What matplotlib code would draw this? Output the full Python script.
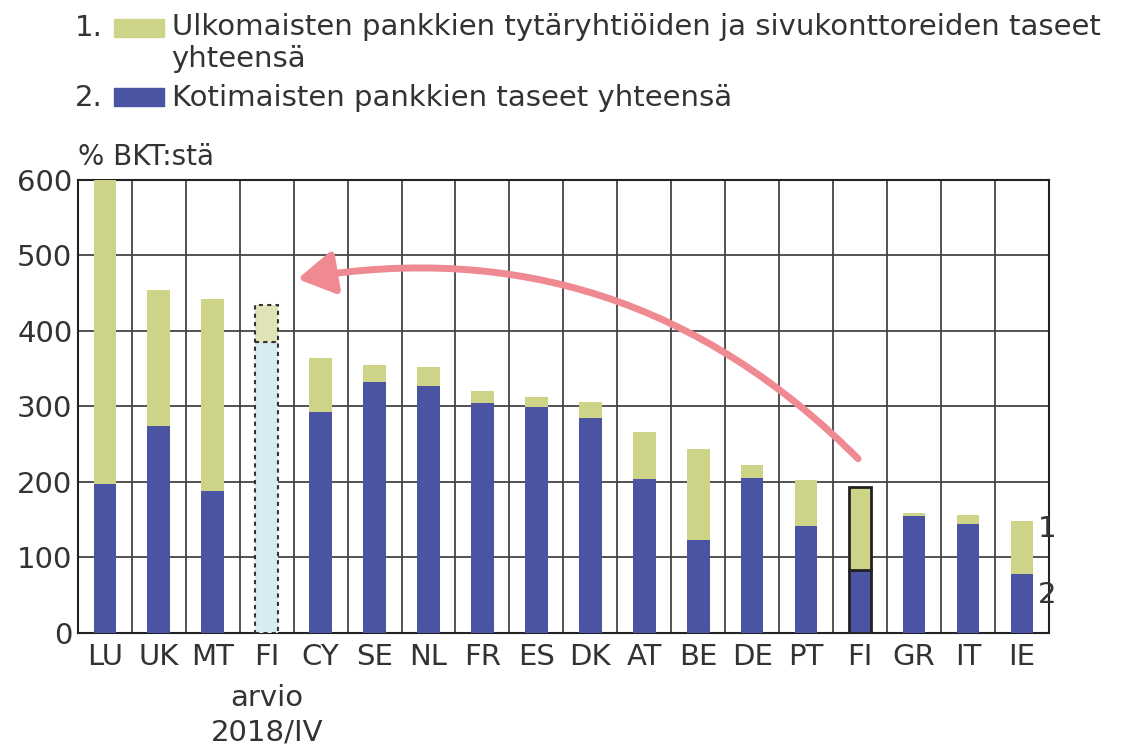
import matplotlib.pyplot as plt
from matplotlib.patches import FancyArrowPatch
import numpy as np

# data, % of GDP
countries = ['LU', 'UK', 'MT', 'FI', 'CY', 'SE', 'NL', 'FR', 'ES', 'DK',
             'AT', 'BE', 'DE', 'PT', 'FI', 'GR', 'IT', 'IE']
estimate_note = 'arvio\n2018/IV'   # extra label under the estimated FI bar
domestic = [197, 274, 188, 385, 293, 332, 327, 305, 299, 285, 204, 123, 205, 142, 83, 155, 144, 78]
total = [600, 454, 442, 434, 364, 355, 352, 320, 312, 306, 266, 244, 222, 203, 193, 159, 156, 148]
foreign = [t - d for t, d in zip(total, domestic)]

olive = '#CDD487'
blue = '#4A54A3'
txt = '#333333'
fs = 21

fig = plt.figure(figsize=(11.29, 7.49), dpi=100)
ax = fig.add_axes([0.069, 0.155, 0.86, 0.605])

x = np.arange(len(countries))
w = 0.42
for i in x:
    if i == 3:
        # estimate bar, dashed outline
        ax.bar(i, domestic[i], w, color='#D6ECF1', edgecolor='#333333', linestyle=(0, (2, 2)), linewidth=1.5, zorder=3)
        ax.bar(i, foreign[i], w, bottom=domestic[i], color='#DFE3B6', edgecolor='#333333', linestyle=(0, (2, 2)), linewidth=1.5, zorder=3)
    elif i == 14:
        ax.bar(i, domestic[i], w, color=blue, edgecolor='#222222', linewidth=2, zorder=3)
        ax.bar(i, foreign[i], w, bottom=domestic[i], color=olive, edgecolor='#222222', linewidth=2, zorder=3)
    else:
        ax.bar(i, domestic[i], w, color=blue, zorder=3)
        ax.bar(i, foreign[i], w, bottom=domestic[i], color=olive, zorder=3)

ax.set_xlim(-0.5, len(countries) - 0.5)
ax.set_ylim(0, 600)
ax.set_yticks(range(0, 601, 100))
for yv in range(100, 600, 100):
    ax.axhline(yv, color='#444444', lw=1.3, zorder=1)
for xv in np.arange(0.5, len(countries) - 1, 1):
    ax.axvline(xv, color='#444444', lw=1.3, zorder=1)
ax.set_xticks(x)
ax.set_xticklabels(countries, fontsize=fs, color=txt)
ax.tick_params(axis='y', labelsize=fs, labelcolor=txt, length=0, pad=4)
ax.tick_params(axis='x', length=0, pad=7)
for s in ax.spines.values():
    s.set_color('#222222')
    s.set_linewidth(1.5)

ax.text(3, -0.112, estimate_note, transform=ax.get_xaxis_transform(), fontsize=fs, color=txt,
        ha='center', va='top', linespacing=1.3)

ax.text(-0.5, 612, '% BKT:stä', fontsize=20, color=txt, ha='left', va='bottom')

# arrow from FI to the estimate
arr = FancyArrowPatch((14.0, 228), (3.52, 468), connectionstyle='arc3,rad=0.26',
                      arrowstyle='-|>,head_length=1.1,head_width=0.65', mutation_scale=20,
                      color='#EF8A92', lw=5, zorder=4)
ax.add_patch(arr)

# bar labels on the right
ax.text(17.3, 137, '1', fontsize=fs, color=txt, va='center', ha='left', clip_on=False)
ax.text(17.3, 50, '2', fontsize=fs, color=txt, va='center', ha='left', clip_on=False)

# legend
fig.text(0.066, 0.962, '1.', fontsize=fs, color=txt, va='center')
fig.patches.append(plt.Rectangle((0.101, 0.951), 0.044, 0.023, color=olive, transform=fig.transFigure))
fig.text(0.152, 0.983, 'Ulkomaisten pankkien tytäryhtiöiden ja sivukonttoreiden taseet\nyhteensä',
         fontsize=fs, color=txt, va='top', linespacing=1.2)
fig.text(0.066, 0.869, '2.', fontsize=fs, color=txt, va='center')
fig.patches.append(plt.Rectangle((0.101, 0.859), 0.044, 0.023, color=blue, transform=fig.transFigure))
fig.text(0.152, 0.869, 'Kotimaisten pankkien taseet yhteensä', fontsize=fs, color=txt, va='center')

fig.savefig('out.png', dpi=100)
